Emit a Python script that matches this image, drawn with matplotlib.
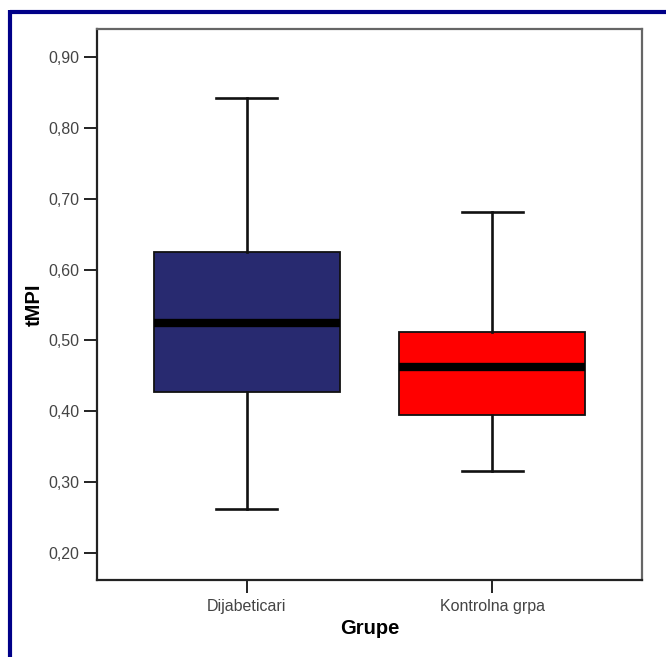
import matplotlib

matplotlib.use("Agg")
from matplotlib import pyplot as plt
from matplotlib.lines import Line2D
from matplotlib.ticker import FixedLocator, FuncFormatter

# tMPI summary per group (box = quartiles, whiskers = min/max)
groups = ["Dijabeticari", "Kontrolna grpa"]
medians = [0.524, 0.462]
q1_values = [0.427, 0.395]
q3_values = [0.625, 0.512]
whisker_low = [0.262, 0.315]
whisker_high = [0.842, 0.681]
box_colors = ["#282A70", "#FF0000"]
y_ticks = [0.20, 0.30, 0.40, 0.50, 0.60, 0.70, 0.80, 0.90]

plt.rcParams["font.family"] = ["Liberation Sans", "DejaVu Sans"]

fig = plt.figure(figsize=(6.66, 6.57), dpi=100)
ax = fig.add_axes([0.1456, 0.1172, 0.8184, 0.8387])

stats = []
for name, med, q1, q3, lo, hi in zip(groups, medians, q1_values, q3_values, whisker_low, whisker_high):
    stats.append({"label": name, "med": med, "q1": q1, "q3": q3, "whislo": lo, "whishi": hi, "fliers": []})

positions = [1, 2]
bp = ax.bxp(
    stats,
    positions=positions,
    widths=0.758,
    capwidths=0.249,
    patch_artist=True,
    showfliers=False,
    boxprops=dict(edgecolor="#111111", linewidth=1.3),
    whiskerprops=dict(color="#111111", linewidth=1.9),
    capprops=dict(color="#111111", linewidth=1.9),
    medianprops=dict(color="black", linewidth=6.0, solid_capstyle="butt"),
)
for patch, color in zip(bp["boxes"], box_colors):
    patch.set_facecolor(color)

ax.set_xlim(0.389, 2.611)
ax.set_ylim(0.1614, 0.940)
ax.yaxis.set_major_locator(FixedLocator(y_ticks))
ax.yaxis.set_major_formatter(FuncFormatter(lambda v, _: f"{v:.2f}".replace(".", ",")))
ax.set_xticks(positions)
ax.set_xticklabels(groups)

ax.tick_params(axis="both", direction="out", length=9.5, width=1.4, color="#222222",
               labelsize=11.5, labelcolor="#444444")
ax.tick_params(axis="y", pad=3)
ax.tick_params(axis="x", pad=4.5)

for side in ("left", "bottom"):
    ax.spines[side].set_color("#222222")
    ax.spines[side].set_linewidth(1.6)
for side in ("top", "right"):
    ax.spines[side].set_color("#666666")
    ax.spines[side].set_linewidth(1.6)

ax.set_ylabel("tMPI", fontsize=14.5, fontweight="bold")
ax.set_xlabel("Grupe", fontsize=14.5, fontweight="bold")
ax.yaxis.set_label_coords(-0.097, 0.5)
ax.xaxis.set_label_coords(0.5, -0.071)

# navy frame along the top and left edges
fig.add_artist(Line2D([9.5 / 666, 1.0], [1 - 11.8 / 657] * 2, transform=fig.transFigure,
                      color="#000088", linewidth=3.0, solid_capstyle="butt"))
fig.add_artist(Line2D([9.5 / 666] * 2, [0.0, 1 - 10 / 657], transform=fig.transFigure,
                      color="#000088", linewidth=3.0, solid_capstyle="butt"))

fig.savefig("out.png", dpi=100)
